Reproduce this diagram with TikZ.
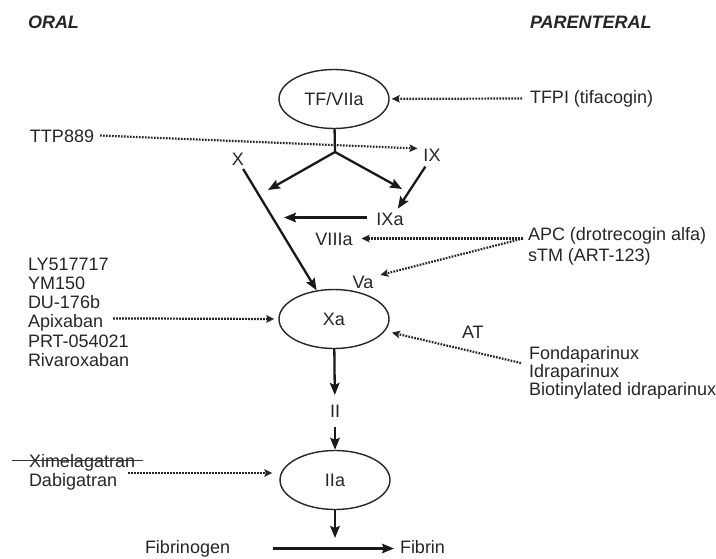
\documentclass[tikz,border=0pt]{standalone}
\usepackage{fontspec}
\setmainfont{Liberation Sans}
\usetikzlibrary{arrows.meta,shapes.geometric}

\tikzset{
  lbl/.style={inner sep=0pt, outer sep=0pt, text height=13pt, text depth=4pt,
              font=\fontsize{18}{19}\selectfont, text=black!85, anchor=base west},
  clbl/.style={lbl, anchor=base},
  head/.style={inner sep=0pt, outer sep=0pt, anchor=base west,
               font=\fontsize{18}{19}\selectfont\bfseries\itshape, text=black!85},
  enz/.style={ellipse, draw=black!85, line width=1.4pt, minimum width=110pt,
              minimum height=59pt, inner sep=0pt, text height=13pt, text depth=0pt,
              font=\fontsize{18}{19}\selectfont, text=black!85},
  rxn/.style={draw=black!90, line width=2.3pt,
              -{Stealth[length=12pt,width=9.5pt,inset=2pt]}},
  stem/.style={draw=black!90, line width=2.3pt},
  inhib/.style={draw=black!85, line width=2.2pt, dash pattern=on 1.7pt off 1.3pt,
                -{Stealth[length=8pt,width=7.5pt,inset=1.5pt]}},
  strike/.style={draw=black!80, line width=1.3pt}
}

\begin{document}
\begin{tikzpicture}[x=1pt,y=-1pt]
\useasboundingbox[fill=white] (0,0) rectangle (716,558);

% column headings
\node[head] (oral) at (28,28) {ORAL};
\node[head] (parent) at (530,28) {PARENTERAL};

% enzyme complexes
\node[enz] (tfvii) at (334,99) {TF/VIIa};
\node[enz] (xa) at (334,319) {Xa};
\node[enz] (iia) at (335,480) {IIa};

% factor labels
\node[clbl] (xlab) at (238,165) {X};
\node[clbl] (ixlab) at (432,161) {IX};
\node[clbl] (ixa) at (390,225) {IXa};
\node[clbl] (viiia) at (334,245) {VIIIa};
\node[clbl] (va) at (363,288) {Va};
\node[clbl] (ii) at (335,417) {II};
\node[lbl] (at) at (462,338) {AT};
\node[lbl] (fbg) at (145,553) {Fibrinogen};
\node[lbl] (fbn) at (400,553) {Fibrin};

% parenteral agents
\node[lbl] (tfpi) at (530,103) {TFPI (tifacogin)};
\node[lbl] (apc) at (528,240) {APC (drotrecogin alfa)};
\node[lbl] (stm) at (528,261) {sTM (ART-123)};
\node[lbl] (fonda) at (529,359) {Fondaparinux};
\node[lbl] (idra) at (529,377.3) {Idraparinux};
\node[lbl] (bioti) at (529,395.6) {Biotinylated idraparinux};

% oral agents
\node[lbl] (ttp) at (30,142) {TTP889};
\node[lbl] (ly) at (28,270) {LY517717};
\node[lbl] (ym) at (28,289.3) {YM150};
\node[lbl] (du) at (28,308.6) {DU-176b};
\node[lbl] (apix) at (28,327.9) {Apixaban};
\node[lbl] (prt) at (28,347.2) {PRT-054021};
\node[lbl] (riva) at (28,366.5) {Rivaroxaban};
\node[lbl] (xim) at (29,467) {Ximelagatran};
\node[lbl] (dab) at (29,486) {Dabigatran};

% withdrawn agent
\draw[strike] ([xshift=-17pt,yshift=2pt]xim.west) -- ([xshift=8pt,yshift=2pt]xim.east);

% cascade
\coordinate (br) at (335,152);
\coordinate (tox) at (268,190);
\coordinate (toixa) at (402,189);
\coordinate (tenase) at (284,217.5);
\coordinate (fibconv) at (335,538);

\draw[stem] (tfvii) -- (br);
\draw[rxn] (br) -- (tox);
\draw[rxn] (br) -- (toixa);
\draw[rxn] (xlab) -- (xa);
\draw[rxn, shorten <=2pt, shorten >=4pt] (ixlab) -- (ixa);
\draw[rxn] ([xshift=-9pt,yshift=3pt]ixa.west) -- (tenase);
\draw[rxn, shorten >=9pt] (xa) -- (ii);
\draw[rxn, shorten <=6pt] (ii) -- (iia);
\draw[rxn] (iia) -- (fibconv);
\draw[rxn] ([xshift=43pt]fbg.east) -- ([xshift=-6pt]fbn.west);

% inhibitors
\draw[inhib, shorten >=2pt] ([xshift=-8pt]tfpi.west) -- (tfvii);
\draw[inhib] ([xshift=6pt,yshift=2pt]ttp.east) -- ([xshift=-6pt,yshift=8pt]ixlab.west);
\coordinate (apcj) at ([xshift=-5pt,yshift=-3pt]apc.west);
\draw[inhib] (apcj) -- ([xshift=9pt,yshift=2pt]viiia.east);
\draw[inhib] (apcj) -- ([xshift=7pt]va.north east);
\draw[inhib, shorten >=7pt] ([xshift=-8pt]fonda.south west) -- (xa);
\draw[inhib, shorten >=4pt] ([xshift=10pt,yshift=5pt]apix.east) -- (xa.west);
\draw[inhib] ([xshift=11pt,yshift=8.5pt]dab.east) -- ([xshift=-7pt,yshift=7pt]iia.west);
\end{tikzpicture}
\end{document}
